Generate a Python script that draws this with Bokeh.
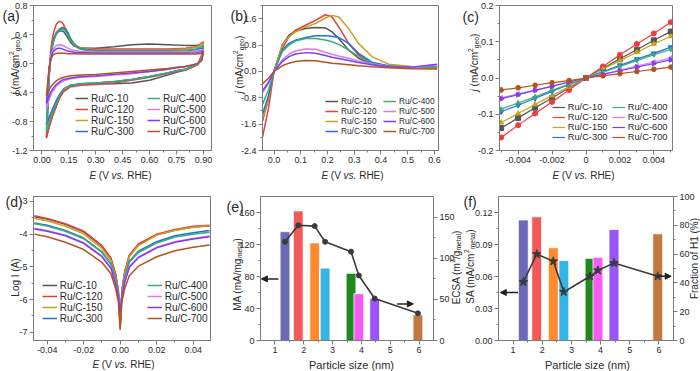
import math
from bokeh.plotting import figure
from bokeh.models import (Range1d, LinearAxis, FixedTicker, Label, Legend, LegendItem,
                          Arrow, NormalHead, ColumnDataSource)
from bokeh.core.properties import value
from bokeh.layouts import column, row
from bokeh.embed import file_html
from bokeh.resources import INLINE

FONT = "Liberation Sans"
FRAME = "#7a7a7a"
TXT = "#2a2a2a"

NAMES = ["Ru/C-10", "Ru/C-120", "Ru/C-150", "Ru/C-300", "Ru/C-400", "Ru/C-500", "Ru/C-600", "Ru/C-700"]
COLORS = ["#555555", "#ee3b3b", "#c9a31a", "#1f72da", "#38ad78", "#d47cf4", "#7e3cf0", "#b4531e"]
MARKERS = ["square", "circle", "triangle", "inverted_triangle", "diamond", "triangle", "triangle", "hex"]
MARKER_ANGLES = [0, 0, 0, 0, 0, math.pi / 2, -math.pi / 2, 0]

# ---------------- (a) CV curves ----------------
A_E_UP = [0.025, 0.03, 0.035, 0.04, 0.05, 0.06, 0.07, 0.08, 0.09, 0.10, 0.11, 0.12, 0.13, 0.14,
          0.16, 0.18, 0.21, 0.25, 0.30, 0.40, 0.50, 0.60, 0.70, 0.80, 0.86, 0.90]
A_E_DN = [0.90, 0.89, 0.87, 0.84, 0.80, 0.75, 0.70, 0.60, 0.50, 0.40, 0.30, 0.22, 0.16, 0.12,
          0.10, 0.08, 0.06, 0.05, 0.04, 0.035, 0.03, 0.025]
A_UP_10 = [-1.03, -0.80, -0.50, -0.20, 0.12, 0.28, 0.37, 0.42, 0.44, 0.45, 0.45, 0.44, 0.41, 0.37, 0.29, 0.24, 0.21, 0.21, 0.21, 0.23, 0.26, 0.27, 0.26, 0.25, 0.25, 0.27]
A_UP_120 = [-1.02, -0.75, -0.43, -0.11, 0.21, 0.37, 0.47, 0.54, 0.57, 0.58, 0.57, 0.54, 0.49, 0.44, 0.33, 0.26, 0.22, 0.21, 0.20, 0.20, 0.20, 0.20, 0.20, 0.21, 0.23, 0.30]
A_UP_150 = [-0.90, -0.68, -0.42, -0.15, 0.12, 0.27, 0.36, 0.42, 0.46, 0.48, 0.50, 0.50, 0.49, 0.45, 0.35, 0.27, 0.22, 0.20, 0.19, 0.19, 0.19, 0.19, 0.19, 0.20, 0.22, 0.28]
A_UP_300 = [-0.85, -0.64, -0.40, -0.14, 0.12, 0.27, 0.36, 0.42, 0.45, 0.47, 0.49, 0.49, 0.48, 0.44, 0.34, 0.26, 0.21, 0.19, 0.18, 0.18, 0.18, 0.18, 0.18, 0.18, 0.19, 0.22]
A_UP_400 = [-0.95, -0.72, -0.45, -0.17, 0.10, 0.25, 0.34, 0.40, 0.43, 0.45, 0.47, 0.47, 0.45, 0.41, 0.32, 0.25, 0.20, 0.18, 0.17, 0.17, 0.17, 0.17, 0.17, 0.18, 0.20, 0.25]
A_UP_500 = [-0.62, -0.45, -0.26, -0.08, 0.10, 0.18, 0.22, 0.245, 0.255, 0.26, 0.255, 0.245, 0.23, 0.215, 0.195, 0.18, 0.17, 0.165, 0.16, 0.16, 0.16, 0.16, 0.16, 0.16, 0.17, 0.19]
A_UP_600 = [-0.55, -0.40, -0.23, -0.07, 0.08, 0.15, 0.185, 0.20, 0.21, 0.21, 0.205, 0.195, 0.185, 0.175, 0.165, 0.155, 0.15, 0.15, 0.145, 0.145, 0.145, 0.145, 0.145, 0.145, 0.15, 0.17]
A_UP_700 = [-0.45, -0.32, -0.18, -0.05, 0.06, 0.11, 0.13, 0.14, 0.14, 0.14, 0.14, 0.14, 0.14, 0.135, 0.135, 0.135, 0.13, 0.13, 0.13, 0.13, 0.13, 0.13, 0.13, 0.13, 0.13, 0.14]
A_DN_10 = [0.27, 0.10, -0.01, -0.05, -0.09, -0.12, -0.16, -0.23, -0.27, -0.28, -0.28, -0.28, -0.31, -0.38, -0.46, -0.58, -0.71, -0.79, -0.87, -0.92, -0.97, -1.03]
A_DN_120 = [0.30, 0.12, 0.00, -0.05, -0.09, -0.11, -0.14, -0.19, -0.23, -0.27, -0.29, -0.30, -0.32, -0.39, -0.47, -0.59, -0.72, -0.80, -0.88, -0.93, -0.97, -1.02]
A_DN_150 = [0.28, 0.10, 0.00, -0.04, -0.08, -0.10, -0.13, -0.18, -0.22, -0.25, -0.27, -0.28, -0.30, -0.36, -0.43, -0.53, -0.64, -0.71, -0.78, -0.82, -0.86, -0.90]
A_DN_300 = [0.22, 0.08, 0.00, -0.04, -0.08, -0.10, -0.13, -0.18, -0.22, -0.25, -0.27, -0.28, -0.30, -0.35, -0.42, -0.51, -0.62, -0.68, -0.74, -0.78, -0.82, -0.85]
A_DN_400 = [0.25, 0.09, 0.00, -0.04, -0.08, -0.10, -0.13, -0.18, -0.22, -0.25, -0.27, -0.28, -0.30, -0.36, -0.44, -0.55, -0.67, -0.74, -0.82, -0.87, -0.91, -0.95]
A_DN_500 = [0.19, 0.06, 0.00, -0.02, -0.04, -0.06, -0.08, -0.11, -0.14, -0.16, -0.18, -0.19, -0.21, -0.24, -0.27, -0.31, -0.38, -0.43, -0.50, -0.54, -0.58, -0.62]
A_DN_600 = [0.17, 0.05, 0.00, -0.02, -0.04, -0.06, -0.08, -0.11, -0.13, -0.15, -0.17, -0.18, -0.20, -0.22, -0.25, -0.29, -0.35, -0.39, -0.45, -0.48, -0.52, -0.55]
A_DN_700 = [0.14, 0.04, 0.00, -0.02, -0.04, -0.05, -0.07, -0.09, -0.11, -0.13, -0.15, -0.16, -0.17, -0.19, -0.21, -0.24, -0.29, -0.32, -0.36, -0.39, -0.42, -0.45]

# ---------------- (b) HOR polarization ----------------
B_E = [-0.043, -0.02, 0.0, 0.031, 0.056, 0.08, 0.118, 0.155, 0.192, 0.217, 0.242, 0.279, 0.316, 0.366, 0.428, 0.514, 0.61]
B_10 = [-1.5, -0.82, 0.0, 0.8, 1.1, 1.22, 1.3, 1.33, 1.32, 1.2, 1.0, 0.65, 0.4, 0.22, 0.15, 0.12, 0.15]
B_120 = [-2.0, -1.1, 0.0, 0.7, 1.05, 1.25, 1.4, 1.55, 1.72, 1.65, 1.35, 0.85, 0.5, 0.25, 0.15, 0.1, 0.1]
B_150 = [-1.45, -0.8, 0.0, 0.8, 1.05, 1.2, 1.35, 1.45, 1.62, 1.7, 1.65, 1.3, 0.85, 0.45, 0.22, 0.15, 0.12]
B_300 = [-1.3, -0.72, 0.0, 0.65, 0.85, 0.95, 1.03, 1.08, 1.08, 1.07, 1.03, 0.85, 0.55, 0.28, 0.17, 0.12, 0.15]
B_400 = [-1.0, -0.55, 0.0, 0.6, 0.8, 0.92, 1.0, 1.0, 0.95, 0.9, 0.82, 0.65, 0.45, 0.25, 0.15, 0.12, 0.14]
B_500 = [-0.65, -0.36, 0.0, 0.35, 0.52, 0.62, 0.68, 0.67, 0.58, 0.52, 0.47, 0.4, 0.32, 0.23, 0.15, 0.12, 0.2]
B_600 = [-0.58, -0.32, 0.0, 0.3, 0.45, 0.53, 0.57, 0.55, 0.48, 0.43, 0.39, 0.33, 0.27, 0.2, 0.14, 0.13, 0.22]
B_700 = [-0.38, -0.2, 0.0, 0.17, 0.25, 0.3, 0.33, 0.32, 0.28, 0.25, 0.23, 0.2, 0.17, 0.14, 0.11, 0.08, 0.07]

# ---------------- (c) micro-polarization ----------------
C_E = [-0.005, -0.004, -0.003, -0.002, -0.001, 0.0, 0.001, 0.002, 0.003, 0.004, 0.005]
C_10 = [-0.138, -0.110, -0.082, -0.055, -0.027, 0.0, 0.027, 0.053, 0.078, 0.104, 0.128]
C_120 = [-0.164, -0.130, -0.098, -0.066, -0.033, 0.0, 0.032, 0.064, 0.094, 0.123, 0.154]
C_150 = [-0.123, -0.098, -0.073, -0.048, -0.024, 0.0, 0.024, 0.048, 0.071, 0.094, 0.115]
C_300 = [-0.093, -0.075, -0.056, -0.037, -0.018, 0.0, 0.018, 0.035, 0.052, 0.068, 0.085]
C_400 = [-0.086, -0.069, -0.052, -0.034, -0.017, 0.0, 0.016, 0.032, 0.048, 0.064, 0.079]
C_500 = [-0.055, -0.044, -0.033, -0.022, -0.011, 0.0, 0.011, 0.022, 0.033, 0.044, 0.055]
C_600 = [-0.057, -0.046, -0.034, -0.023, -0.011, 0.0, 0.010, 0.020, 0.030, 0.040, 0.050]
C_700 = [-0.033, -0.027, -0.020, -0.013, -0.007, 0.0, 0.006, 0.012, 0.018, 0.024, 0.030]

# ---------------- (d) Tafel ----------------
D_E = [-0.047, -0.04, -0.03, -0.02, -0.01, -0.005, -0.0025, -0.001, 0.0, 0.001, 0.0025, 0.005, 0.01, 0.02, 0.03, 0.04, 0.049]
D_10 = [-3.47, -3.54, -3.70, -3.93, -4.37, -4.76, -5.24, -5.73, -6.70, -5.73, -5.15, -4.66, -4.32, -4.02, -3.88, -3.78, -3.75]
D_120 = [-3.44, -3.52, -3.68, -3.91, -4.35, -4.74, -5.22, -5.71, -6.93, -5.71, -5.13, -4.64, -4.30, -4.00, -3.86, -3.76, -3.73]
D_150 = [-3.52, -3.59, -3.76, -3.99, -4.44, -4.81, -5.30, -5.76, -6.88, -5.76, -5.20, -4.69, -4.35, -4.03, -3.88, -3.79, -3.74]
D_300 = [-3.66, -3.73, -3.89, -4.12, -4.54, -4.91, -5.37, -5.81, -6.59, -5.81, -5.32, -4.83, -4.52, -4.23, -4.05, -3.96, -3.89]
D_400 = [-3.68, -3.75, -3.91, -4.14, -4.56, -4.93, -5.39, -5.83, -6.49, -5.83, -5.35, -4.86, -4.56, -4.27, -4.09, -4.00, -3.94]
D_500 = [-3.82, -3.89, -4.03, -4.26, -4.67, -5.03, -5.50, -5.89, -6.25, -5.89, -5.45, -4.99, -4.70, -4.40, -4.23, -4.13, -4.06]
D_600 = [-3.84, -3.91, -4.05, -4.28, -4.69, -5.05, -5.52, -5.91, -6.35, -5.91, -5.47, -5.01, -4.72, -4.42, -4.25, -4.15, -4.08]
D_700 = [-4.00, -4.08, -4.25, -4.47, -4.86, -5.22, -5.66, -6.08, -6.88, -6.05, -5.66, -5.27, -4.98, -4.69, -4.51, -4.40, -4.33]

# ---------------- (e), (f) particle size ----------------
SIZES = [1.35, 1.81, 2.38, 2.74, 3.64, 3.91, 4.46, 5.96]
BAR_COLORS = ["#6a6ab6", "#f25a5a", "#ff8a30", "#35b5e5", "#1e8a1e", "#f45cf4", "#9a55f5", "#c47840"]
MA = [136, 162, 122, 90.5, 84, 58.5, 52.5, 32]
ECSA = [120, 140, 139, 120, 108, 79, 51, 33]
SA = [0.113, 0.116, 0.087, 0.075, 0.077, 0.078, 0.104, 0.100]
H1 = [40.6, 60.0, 55.0, 33.7, 44.6, 48.7, 53.8, 44.6]
MA_ARROW_X = [1.12, 0.53]
MA_ARROW_Y = 77
ECSA_ARROW_X = [5.24, 5.80]
ECSA_ARROW_Y = 44.5
SA_ARROW_X = [1.17, 0.56]
SA_ARROW_Y = 0.045
H1_ARROW_X = [5.96, 6.42]
H1_ARROW_Y = 44.6

# ---------------- layout geometry (page pixels) ----------------
TOTAL_W, TOTAL_H = 700, 371
G = {
    'a': dict(x0=0, y0=0, w=230, h=185, left=33, right=19, top=5, bottom=35),
    'b': dict(x0=230, y0=0, w=230, h=185, left=32, right=22, top=5, bottom=35),
    'c': dict(x0=460, y0=0, w=240, h=185, left=39, right=28, top=5, bottom=35),
    'd': dict(x0=0, y0=185, w=230, h=186, left=33, right=20, top=5, bottom=30),
    'e': dict(x0=230, y0=185, w=230, h=186, left=30, right=27, top=10, bottom=30),
    'f': dict(x0=460, y0=185, w=240, h=186, left=38, right=27, top=11, bottom=31),
}

CW = {' ': 278, '(': 333, ')': 333, '/': 278, '.': 278, '%': 889, '-': 333,
      'A': 667, 'C': 722, 'E': 667, 'H': 722, 'I': 278, 'L': 556, 'M': 833, 'P': 667,
      'R': 722, 'S': 667, 'V': 667, 'F': 611,
      'a': 556, 'c': 500, 'e': 556, 'f': 278, 'g': 556, 'i': 222, 'j': 222, 'l': 222,
      'm': 833, 'n': 556, 'o': 556, 'r': 333, 's': 500, 't': 278, 'v': 500, 'z': 500,
      'b': 556, 'd': 556}


def tw(s, size):
    return sum(CW.get(ch, 556) for ch in s) * size / 1000.0


def make_fig(key, xr, yr):
    g = G[key]
    p = figure(width=g['w'], height=g['h'], x_range=Range1d(*xr), y_range=Range1d(*yr),
               output_backend="svg", toolbar_location=None, title=None,
               min_border_left=g['left'], min_border_right=g['right'],
               min_border_top=g['top'], min_border_bottom=g['bottom'],
               outline_line_color=FRAME, outline_line_width=1,
               background_fill_color="white", border_fill_color="white")
    p.xgrid.visible = False
    p.ygrid.visible = False
    return p


def style_axis(ax, ticks, minor, labels):
    ax.ticker = FixedTicker(ticks=ticks, minor_ticks=minor)
    ax.major_label_overrides = {t: l for t, l in zip(ticks, labels)}
    ax.major_label_text_font = FONT
    ax.major_label_text_font_size = "9px"
    ax.major_label_text_color = TXT
    ax.axis_line_color = FRAME
    ax.major_tick_line_color = FRAME
    ax.minor_tick_line_color = FRAME
    ax.major_tick_out = 4
    ax.major_tick_in = 0
    ax.minor_tick_out = 2
    ax.minor_tick_in = 0
    ax.major_label_standoff = 2


def legends(p, key, rends, x1, x2, last_row, glyph_w=13, fs=10.0):
    """x1, x2: page x of each column's line sample; last_row: page y of the 4th row centre."""
    g = G[key]
    fx0 = g['x0'] + g['left']
    fb = g['y0'] + g['h'] - g['bottom']
    row_h = 11 if fs >= 9 else 10
    vy = fb - (last_row + row_h / 2.0)
    for idxs, xr in ((range(0, 4), x1), (range(4, 8), x2)):
        items = [LegendItem(label=value(NAMES[i]), renderers=[rends[i]]) for i in idxs]
        lg = Legend(items=items, location=(xr - fx0, vy), orientation="vertical",
                    background_fill_alpha=0, border_line_alpha=0, padding=0, margin=0,
                    spacing=0, glyph_width=glyph_w, glyph_height=10, label_height=10,
                    label_standoff=3, label_text_font=FONT, label_text_font_size=f"{fs}px",
                    label_text_color=TXT)
        p.add_layout(lg)


# transparent overlay figure that carries every text lying outside the plot frames
ov = figure(width=TOTAL_W, height=TOTAL_H, x_range=Range1d(0, TOTAL_W), y_range=Range1d(0, TOTAL_H),
            output_backend="svg", toolbar_location=None, title=None,
            x_axis_location=None, y_axis_location=None,
            min_border_left=0, min_border_right=0, min_border_top=0, min_border_bottom=0,
            outline_line_color=None, background_fill_alpha=0, border_fill_alpha=0,
            margin=(-TOTAL_H, 0, 0, 0))
ov.xgrid.visible = False
ov.ygrid.visible = False


def rich(runs, X, Y, size, rot=False, anchor='c'):
    """Text made of styled pieces; X,Y in page pixels.
    horizontal: X = centre (or left), Y = baseline; rotated: X = baseline, Y = centre."""
    small = size * 0.68
    sizes = [small if k in ('sup', 'sub') else size for _, k in runs]
    widths = [tw(t, s) for (t, _), s in zip(runs, sizes)]
    total = sum(widths)
    pos = -total / 2.0 if anchor == 'c' else 0.0
    for (t, k), s, w in zip(runs, sizes, widths):
        lead = len(t) - len(t.lstrip(' '))
        txt = t.strip(' ')
        start = pos + tw(' ' * lead, s)
        shift = size * 0.36 if k == 'sup' else (-size * 0.2 if k == 'sub' else 0.0)
        if rot:
            px, py = X - shift, Y - start
        else:
            px, py = X + start, Y - shift
        if txt:
            ov.add_layout(Label(x=px, y=TOTAL_H - py, text=txt,
                                angle=(math.pi / 2 if rot else 0),
                                text_font=FONT, text_font_size=f"{s:.1f}px",
                                text_font_style=('italic' if k == 'i' else 'normal'),
                                text_align='left', text_baseline='alphabetic',
                                text_color=TXT))
        pos += w


E_LABEL = [("E", 'i'), (" (V ", 'n'), ("vs.", 'i'), (" RHE)", 'n')]
J_LABEL = [("j", 'i'), (" (mA/cm", 'n'), ("2", 'sup'), ("geo", 'sub'), (")", 'n')]

# ---------------- panel (a) ----------------
pa = make_fig('a', (-0.047, 0.945), (-1.2, 0.8))
A_UP = [A_UP_10, A_UP_120, A_UP_150, A_UP_300, A_UP_400, A_UP_500, A_UP_600, A_UP_700]
A_DN = [A_DN_10, A_DN_120, A_DN_150, A_DN_300, A_DN_400, A_DN_500, A_DN_600, A_DN_700]
ra = []
for c, up, dn in zip(COLORS, A_UP, A_DN):
    ra.append(pa.line(A_E_UP + A_E_DN, up + dn, line_color=c, line_width=1.5))
style_axis(pa.xaxis[0], [0, 0.15, 0.3, 0.45, 0.6, 0.75, 0.9],
           [0.075, 0.225, 0.375, 0.525, 0.675, 0.825],
           ["0.00", "0.15", "0.30", "0.45", "0.60", "0.75", "0.90"])
style_axis(pa.yaxis[0], [-1.2, -0.8, -0.4, 0, 0.4, 0.8], [-1.0, -0.6, -0.2, 0.2, 0.6],
           ["-1.2", "-0.8", "-0.4", "0.0", "0.4", "0.8"])
legends(pa, 'a', ra, 75, 147, 131, fs=10)
rich([("(a)", 'n')], 2, 15, 14, anchor='l')
rich(E_LABEL, 120, 175, 10)
rich(J_LABEL, 15, 65, 10, rot=True)

# ---------------- panel (b) ----------------
pb = make_fig('b', (-0.043, 0.615), (-2.4, 2.0))
rb = []
for c, ys in zip(COLORS, [B_10, B_120, B_150, B_300, B_400, B_500, B_600, B_700]):
    rb.append(pb.line(B_E, ys, line_color=c, line_width=1.5))
style_axis(pb.xaxis[0], [0, 0.1, 0.2, 0.3, 0.4, 0.5, 0.6],
           [0.05, 0.15, 0.25, 0.35, 0.45, 0.55],
           ["0.0", "0.1", "0.2", "0.3", "0.4", "0.5", "0.6"])
style_axis(pb.yaxis[0], [-2.4, -1.6, -0.8, 0, 0.8, 1.6], [-2.0, -1.2, -0.4, 0.4, 1.2, 2.0],
           ["-2.4", "-1.6", "-0.8", "0.0", "0.8", "1.6"])
legends(pb, 'b', rb, 325, 383, 131, fs=8.3)
rich([("(b)", 'n')], 230, 15, 14, anchor='l')
rich(E_LABEL, 352, 175, 10)
rich(J_LABEL, 239, 64, 10, rot=True)

# ---------------- panel (c) ----------------
pc = make_fig('c', (-0.0051, 0.0051), (-0.2, 0.2))
rc = []
for c, ys, m, ang in zip(COLORS, [C_10, C_120, C_150, C_300, C_400, C_500, C_600, C_700],
                         MARKERS, MARKER_ANGLES):
    rc.append(pc.line(C_E, ys, line_color=c, line_width=1.2))
    pc.scatter(C_E, ys, marker=m, angle=ang, size=5, fill_color=c, line_color=c)
style_axis(pc.xaxis[0], [-0.004, -0.002, 0, 0.002, 0.004],
           [-0.005, -0.003, -0.001, 0.001, 0.003, 0.005],
           ["-0.004", "-0.002", "0", "0.002", "0.004"])
style_axis(pc.yaxis[0], [-0.2, -0.1, 0, 0.1, 0.2], [-0.15, -0.05, 0.05, 0.15],
           ["-0.2", "-0.1", "0.0", "0.1", "0.2"])
legends(pc, 'c', rc, 551.7, 611.7, 136, fs=9.3)
rich([("(c)", 'n')], 462, 16, 14, anchor='l')
rich(E_LABEL, 583, 175, 10)
rich(J_LABEL, 474, 62, 10, rot=True)

# ---------------- panel (d) ----------------
pd_ = make_fig('d', (-0.0475, 0.0495), (-7.25, -2.85))
rd = []
for c, ys in zip(COLORS, [D_10, D_120, D_150, D_300, D_400, D_500, D_600, D_700]):
    rd.append(pd_.line(D_E, ys, line_color=c, line_width=1.5))
style_axis(pd_.xaxis[0], [-0.04, -0.02, 0, 0.02, 0.04], [-0.03, -0.01, 0.01, 0.03],
           ["-0.04", "-0.02", "0.00", "0.02", "0.04"])
style_axis(pd_.yaxis[0], [-7, -6, -5, -4, -3], [-6.5, -5.5, -4.5, -3.5],
           ["-7", "-6", "-5", "-4", "-3"])
legends(pd_, 'd', rd, 41.7, 146.7, 319, glyph_w=15, fs=10)
rich([("(d)", 'n')], 5, 201, 14, anchor='l')
rich(E_LABEL, 123, 364, 10)
rich([("Log I (A)", 'n')], 14.5, 277, 10, rot=True)

# ---------------- panel (e) ----------------
pe = make_fig('e', (0.5, 6.5), (0, 180))
pe.extra_y_ranges = {"r": Range1d(0, 175)}
src_e = ColumnDataSource(dict(x=SIZES, top=MA, color=BAR_COLORS, ecsa=ECSA))
pe.vbar(x='x', top='top', width=0.34, fill_color='color', line_color="white",
        line_width=0.8, source=src_e)
pe.line('x', 'ecsa', source=src_e, y_range_name="r", line_color="#3a3a3a", line_width=1.6)
pe.scatter('x', 'ecsa', source=src_e, y_range_name="r", marker="circle", size=5,
           fill_color="#3a3a3a", line_color="#3a3a3a")
pe.add_layout(Arrow(end=NormalHead(size=6, fill_color="#222222", line_color="#222222"),
                    x_start=MA_ARROW_X[0], y_start=MA_ARROW_Y, x_end=MA_ARROW_X[1],
                    y_end=MA_ARROW_Y, line_color="#222222", line_width=1.5))
pe.add_layout(Arrow(end=NormalHead(size=6, fill_color="#222222", line_color="#222222"),
                    x_start=ECSA_ARROW_X[0], y_start=ECSA_ARROW_Y, x_end=ECSA_ARROW_X[1],
                    y_end=ECSA_ARROW_Y, line_color="#222222", line_width=1.5,
                    y_range_name="r"))
ax_er = LinearAxis(y_range_name="r")
pe.add_layout(ax_er, "right")
style_axis(pe.xaxis[0], [1, 2, 3, 4, 5, 6], [1.5, 2.5, 3.5, 4.5, 5.5],
           ["1", "2", "3", "4", "5", "6"])
style_axis(pe.yaxis[0], [0, 40, 80, 120, 160], [20, 60, 100, 140],
           ["0", "40", "80", "120", "160"])
style_axis(ax_er, [0, 50, 100, 150], [25, 75, 125], ["0", "50", "100", "150"])
rich([("(e)", 'n')], 226, 206, 14, anchor='l')
rich([("Particle size (nm)", 'n')], 351, 364, 11)
rich([("MA (mA/mg", 'n'), ("metal", 'sub'), (")", 'n')], 236.5, 274, 10, rot=True)
rich([("ECSA (m", 'n'), ("2", 'sup'), ("/g", 'n'), ("metal", 'sub'), (")", 'n')],
     456, 267, 10, rot=True)

# ---------------- panel (f) ----------------
pf = make_fig('f', (0.5, 6.5), (0, 0.135))
pf.extra_y_ranges = {"r": Range1d(0, 100)}
src_f = ColumnDataSource(dict(x=SIZES, top=SA, color=BAR_COLORS, h1=H1))
pf.vbar(x='x', top='top', width=0.34, fill_color='color', line_color="white",
        line_width=0.8, source=src_f)
pf.line('x', 'h1', source=src_f, y_range_name="r", line_color="#3a3a3a", line_width=1.6)
pf.scatter('x', 'h1', source=src_f, y_range_name="r", marker="star", size=9,
           fill_color="#3a3a3a", line_color="#3a3a3a")
pf.add_layout(Arrow(end=NormalHead(size=6, fill_color="#222222", line_color="#222222"),
                    x_start=SA_ARROW_X[0], y_start=SA_ARROW_Y, x_end=SA_ARROW_X[1],
                    y_end=SA_ARROW_Y, line_color="#222222", line_width=1.5))
pf.add_layout(Arrow(end=NormalHead(size=6, fill_color="#222222", line_color="#222222"),
                    x_start=H1_ARROW_X[0], y_start=H1_ARROW_Y, x_end=H1_ARROW_X[1],
                    y_end=H1_ARROW_Y, line_color="#222222", line_width=1.5,
                    y_range_name="r"))
ax_fr = LinearAxis(y_range_name="r")
pf.add_layout(ax_fr, "right")
style_axis(pf.xaxis[0], [1, 2, 3, 4, 5, 6], [1.5, 2.5, 3.5, 4.5, 5.5],
           ["1", "2", "3", "4", "5", "6"])
style_axis(pf.yaxis[0], [0, 0.03, 0.06, 0.09, 0.12], [0.015, 0.045, 0.075, 0.105],
           ["0.00", "0.03", "0.06", "0.09", "0.12"])
style_axis(ax_fr, [0, 20, 40, 60, 80, 100], [10, 30, 50, 70, 90],
           ["0", "20", "40", "60", "80", "100"])
rich([("(f)", 'n')], 463, 201, 14, anchor='l')
rich([("Particle size (nm)", 'n')], 587, 364, 11)
rich([("SA (mA/cm", 'n'), ("2", 'sup'), ("metal", 'sub'), (")", 'n')],
     469.5, 266, 10, rot=True)
rich([("Fraction of H1 (%)", 'n')], 694, 258, 10, rot=True)

layout = column(row(pa, pb, pc), row(pd_, pe, pf), ov)
open("out.html", "w").write(file_html(layout, INLINE))
